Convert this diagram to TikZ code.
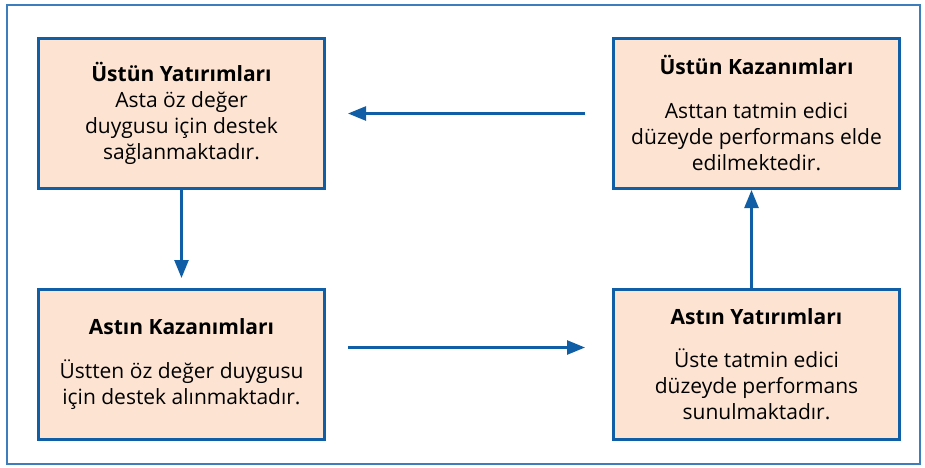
\documentclass[tikz,border=0pt]{standalone}
\usepackage{fontspec}
\setmainfont{Open Sans}
\usepackage{tikz}
\usetikzlibrary{arrows.meta}
\usetikzlibrary{positioning}
\definecolor{ustblue}{RGB}{16,94,166}
\definecolor{frameblue}{RGB}{60,125,190}
\definecolor{ustpeach}{RGB}{252,227,210}

\tikzset{
  kutu/.style={draw=ustblue, line width=3pt, fill=ustpeach, minimum width=286pt,
    minimum height=150pt, inner sep=0pt, align=center,
    font=\fontsize{21}{26}\selectfont},
  akis/.style={draw=ustblue, line width=2.5pt, -{Triangle[length=18pt,width=14pt]}}
}

\begin{document}
\begin{tikzpicture}
      \useasboundingbox (0,0) rectangle (925pt,-467pt);
      \draw[frameblue, line width=1.5pt] (7pt,-5pt) rectangle (920pt,-464pt);
      % boxes
      \node[kutu] (ustyat) at (181.5pt,-113.5pt)
        {\textbf{Üstün Yatırımları}\\Asta öz değer\\duygusu için destek\\sağlanmaktadır.};
      \node[kutu, right=286pt of ustyat] (ustkaz)
        {\textbf{Üstün Kazanımları}\\[18pt]Asttan tatmin edici\\düzeyde performans elde\\edilmektedir.};
      \node[kutu, below=98pt of ustyat] (astkaz)
        {\textbf{Astın Kazanımları}\\[18pt]Üstten öz değer duygusu\\için destek alınmaktadır.};
      \node[kutu, right=286pt of astkaz] (astyat)
        {\textbf{Astın Yatırımları}\\[17pt]Üste tatmin edici\\düzeyde performans\\sunulmaktadır.};
      % arrows
      \draw[akis, shorten <=27pt, shorten >=22pt] (ustkaz.west) -- (ustyat.east);
      \draw[akis, shorten >=10pt] (ustyat.south) -- (astkaz.north);
      \draw[akis, shorten <=22pt, shorten >=27pt] ([yshift=17pt]astkaz.east) -- ([yshift=17pt]astyat.west);
      \draw[akis] ([xshift=-5pt]astyat.north) -- ([xshift=-5pt]ustkaz.south);
    \end{tikzpicture}
\end{document}
